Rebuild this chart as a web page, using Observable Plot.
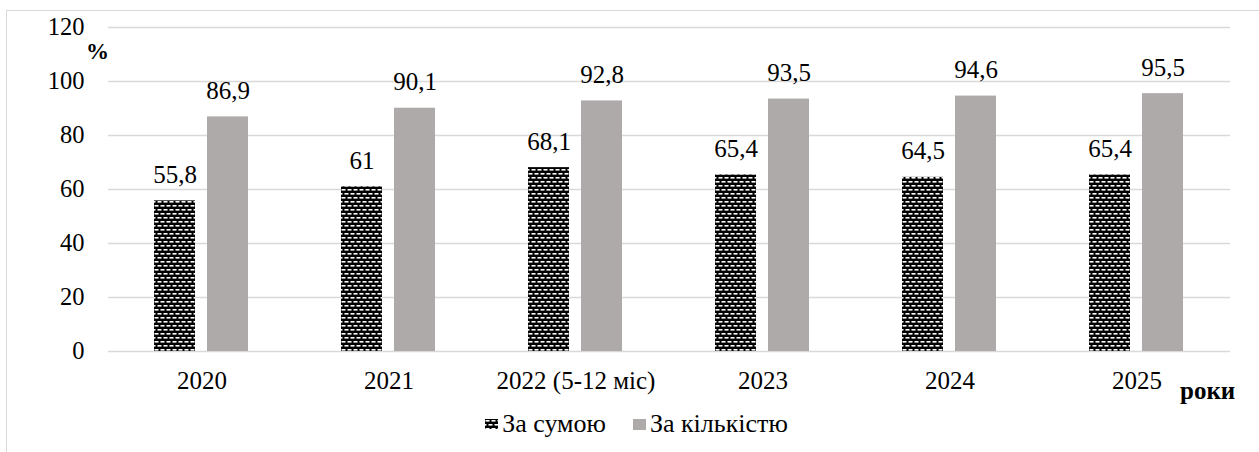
<!DOCTYPE html>
<html><head><meta charset="utf-8">
<script src="https://cdn.jsdelivr.net/npm/d3@7"></script>
<script src="https://cdn.jsdelivr.net/npm/@observablehq/plot@0.6"></script>
<style>
body{margin:0;background:#fff;font-family:'Liberation Serif';}
#wrap{position:relative;width:1259px;height:452px;overflow:hidden;font-family:'Liberation Serif';}
#frame{position:absolute;left:6px;top:10px;width:1300px;height:500px;border:1.5px solid #d9d9d9;box-sizing:border-box;}
#chart{position:absolute;left:0;top:0;}
#chart svg, #chart svg text{font-family:'Liberation Serif' !important;}
.lbl{position:absolute;font-weight:bold;color:#000;white-space:nowrap;font-family:'Liberation Serif';}
#legend{position:absolute;top:409px;left:0;width:1259px;display:flex;justify-content:center;gap:27px;font-size:26px;color:#000;padding-left:14px;box-sizing:border-box;font-family:'Liberation Serif';}
#legend .item{display:flex;align-items:center;gap:4px;}
</style>
</head><body>
<svg width="0" height="0" style="position:absolute">
  <defs>
    <pattern id="pat" patternUnits="userSpaceOnUse" width="6" height="8">
      <rect width="6" height="8" fill="#000"/>
      <rect x="0.5" y="1" width="4" height="1.6" fill="#fff"/>
      <rect x="3.5" y="5" width="4" height="1.6" fill="#fff"/>
      <rect x="-2.5" y="5" width="4" height="1.6" fill="#fff"/>
    </pattern>
  </defs>
</svg>
<div id="wrap">
  <div id="frame"></div>
  <div id="chart"></div>
  <div class="lbl" style="left:86px;top:39px;font-size:23px;">%</div>
  <div class="lbl" style="left:1180px;top:377px;font-size:25px;">роки</div>
  <div id="legend">
    <div class="item"><svg width="13" height="10"><rect width="13" height="10" fill="url(#pat)"/></svg><span>За сумою</span></div>
    <div class="item"><svg width="13" height="11"><rect width="13" height="11" fill="#aeaaaa"/></svg><span>За кількістю</span></div>
  </div>
</div>
<script>
const years = ["2020", "2021", "2022 (5-12 міс)", "2023", "2024", "2025"];
const series = ["За сумою", "За кількістю"];
const sumValues = [55.8, 61, 68.1, 65.4, 64.5, 65.4];
const countValues = [86.9, 90.1, 92.8, 93.5, 94.6, 95.5];
const yTicks = [0, 20, 40, 60, 80, 100, 120];

const data = [];
years.forEach((y, i) => {
  data.push({year: y, series: series[0], value: sumValues[i]});
  data.push({year: y, series: series[1], value: countValues[i]});
});
const fmt = v => String(v).replace(".", ",");

const chart = Plot.plot({
  width: 1259,
  height: 400,
  marginLeft: 107,
  marginRight: 29,
  marginTop: 27,
  marginBottom: 49,
  style: {fontFamily: "'Liberation Serif'", fontSize: "25px", color: "#000", background: "transparent"},
  fx: {domain: years, padding: 0, label: null},
  x: {domain: series, paddingInner: 0.222, paddingOuter: 0.844, axis: null},
  y: {domain: [0, 120], ticks: yTicks, label: null},
  marks: [
    Plot.gridY(yTicks.filter(t => t > 0), {stroke: "#d9d9d9", strokeOpacity: 1, strokeWidth: 1.5}),
    Plot.ruleY([0], {stroke: "#d9d9d9", strokeWidth: 1.5}),
    Plot.axisY({ticks: yTicks, tickSize: 0, tickPadding: 24, fontSize: 24.5, label: null}),
    Plot.axisFx({anchor: "bottom", tickSize: 0, tickPadding: 20, fontSize: 25, label: null}),
    Plot.barY(data.filter(d => d.series === series[0]), {fx: "year", x: "series", y: "value", fill: "url(#pat)"}),
    Plot.barY(data.filter(d => d.series === series[1]), {fx: "year", x: "series", y: "value", fill: "#aeaaaa"}),
    Plot.text(data, {fx: "year", x: "series", y: "value", text: d => fmt(d.value), lineAnchor: "bottom", dy: -18, fontSize: 25, fill: "#000"})
  ]
});
document.getElementById("chart").appendChild(chart);
</script>
</body></html>
